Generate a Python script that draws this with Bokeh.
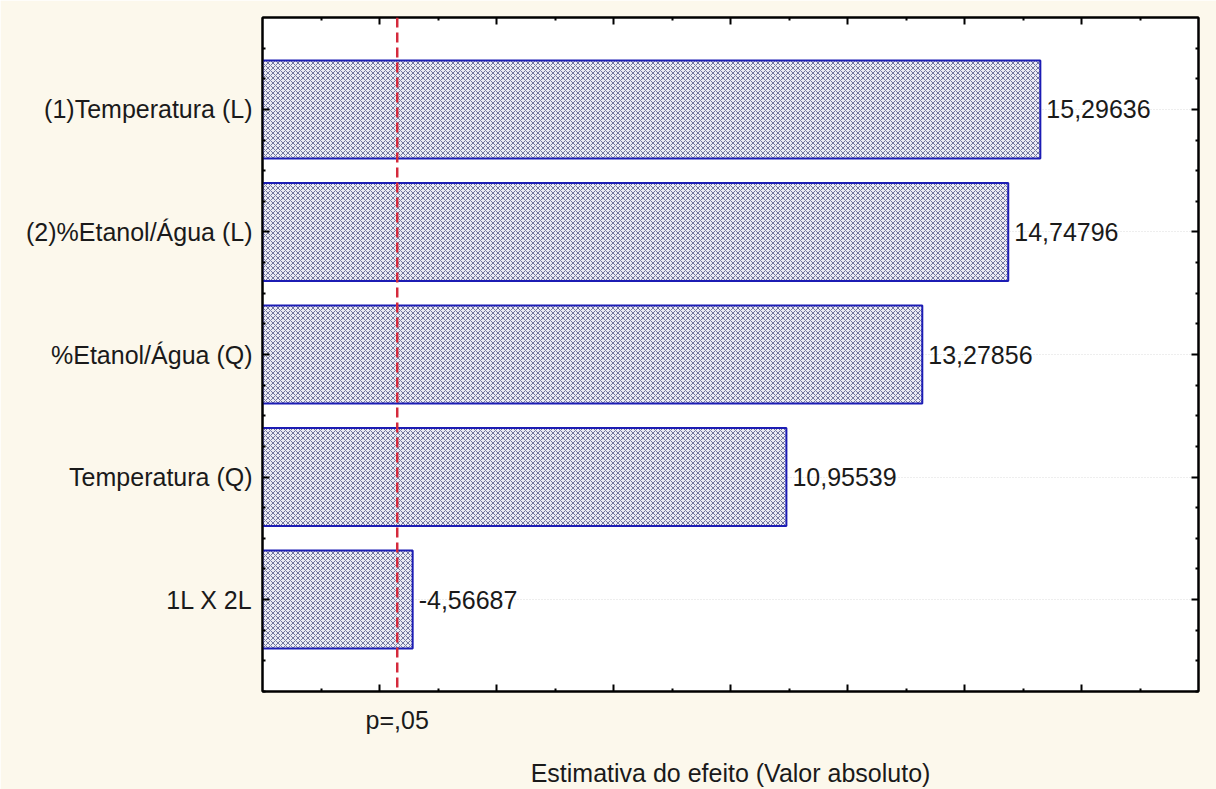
from bokeh.plotting import figure
from bokeh.models import (FixedTicker, LinearAxis, Span, Range1d, ColumnDataSource, Grid)
from bokeh.core.properties import value
from bokeh.embed import file_html
from bokeh.resources import INLINE

# ---- data ----
labels = ["(1)Temperatura (L)", "(2)%Etanol/Água (L)", "%Etanol/Água (Q)",
          "Temperatura (Q)", "1L X 2L"]
effects = [15.29636, 14.74796, 13.27856, 10.95539, -4.56687]
p_crit = 4.303          # t critical value, p = 0.05
p_label = "p=,05"
x_label = "Estimativa do efeito (Valor absoluto)"
x_min, x_max = 2, 18

n = len(labels)
ypos = [n - i for i in range(n)]
mags = [abs(v) for v in effects]
txt = [f"{v:.5f}".replace(".", ",") for v in effects]

src = ColumnDataSource(dict(y=ypos, mag=mags, txt=txt))

FONT = "Liberation Sans"
FS = "25px"
BG = "#FCF8EC"
TXT = "#1a1a1a"

p = figure(width=1216, height=789, x_range=Range1d(x_min, x_max),
           y_range=Range1d(0.25, n + 0.75),
           x_axis_location=None, y_axis_location=None,
           output_backend="svg", toolbar_location=None,
           min_border_left=262, min_border_right=18,
           min_border_top=17, min_border_bottom=98)
p.background_fill_color = "white"
p.border_fill_color = BG
p.outline_line_color = "black"
p.outline_line_width = 2
for g in p.grid:
    g.visible = False

# grid lines at categories
p.add_layout(Grid(dimension=1, ticker=FixedTicker(ticks=ypos),
                  grid_line_color="#dcdcdc", grid_line_dash="1 2",
                  grid_line_width=1))

# bars
p.hbar(y="y", left=x_min, right="mag", height=0.8, source=src,
       fill_color="#ebebf3", hatch_pattern="diagonal_cross",
       hatch_color="#72759e", hatch_scale=5, hatch_weight=1,
       line_color="#1c1cb4", line_width=2)

p.text(x="mag", y="y", text="txt", source=src, x_offset=6,
       text_baseline="middle", text_align="left",
       text_font=value(FONT), text_font_size=FS, text_color=TXT)

p.add_layout(Span(location=p_crit, dimension="height", line_color="#d42a3c",
                  line_dash="10 5", line_width=2.5))

# axes
x_major = list(range(x_min + 2, x_max, 2))
x_minor = list(range(x_min + 1, x_max, 2))
y_minor = [k / 4 for k in range(1, 4 * n + 3) if k % 4 != 0]


def tick_axis(ticks, minor, blank=True, **kw):
    extra = {}
    if blank:
        extra = dict(major_label_overrides={t: "" for t in ticks},
                     major_label_text_font_size="1px",
                     major_label_standoff=0)
    extra.update(kw)
    ax = LinearAxis(ticker=FixedTicker(ticks=ticks, minor_ticks=minor),
                    major_tick_in=7, major_tick_out=0,
                    minor_tick_in=3, minor_tick_out=0,
                    axis_line_width=2, major_tick_line_width=2,
                    minor_tick_line_width=2,
                    axis_line_color="black", major_tick_line_color="black",
                    minor_tick_line_color="black", **extra)
    return ax


left = tick_axis(ypos, y_minor, blank=False,
                 major_label_overrides={y: l for y, l in zip(ypos, labels)},
                 major_label_standoff=10,
                 major_label_text_font=FONT, major_label_text_font_size=FS,
                 major_label_text_color=TXT)
p.add_layout(left, "left")

p.add_layout(tick_axis(ypos, y_minor), "right")
p.add_layout(tick_axis(x_major, x_minor), "above")
p.add_layout(tick_axis(x_major, x_minor), "below")

bottom2 = LinearAxis(ticker=FixedTicker(ticks=[p_crit], minor_ticks=[]),
                     major_tick_in=0, major_tick_out=0, minor_tick_in=0,
                     minor_tick_out=0, axis_line_color=None,
                     major_tick_line_color=None, minor_tick_line_color=None,
                     major_label_overrides={p_crit: p_label},
                     major_label_standoff=14,
                     major_label_text_font=FONT, major_label_text_font_size=FS,
                     major_label_text_color=TXT,
                     axis_label=x_label, axis_label_standoff=22,
                     axis_label_text_font=FONT,
                     axis_label_text_font_size=FS,
                     axis_label_text_font_style="normal",
                     axis_label_text_color=TXT)
p.add_layout(bottom2, "below")

open("out.html", "w").write(file_html(p, INLINE))
